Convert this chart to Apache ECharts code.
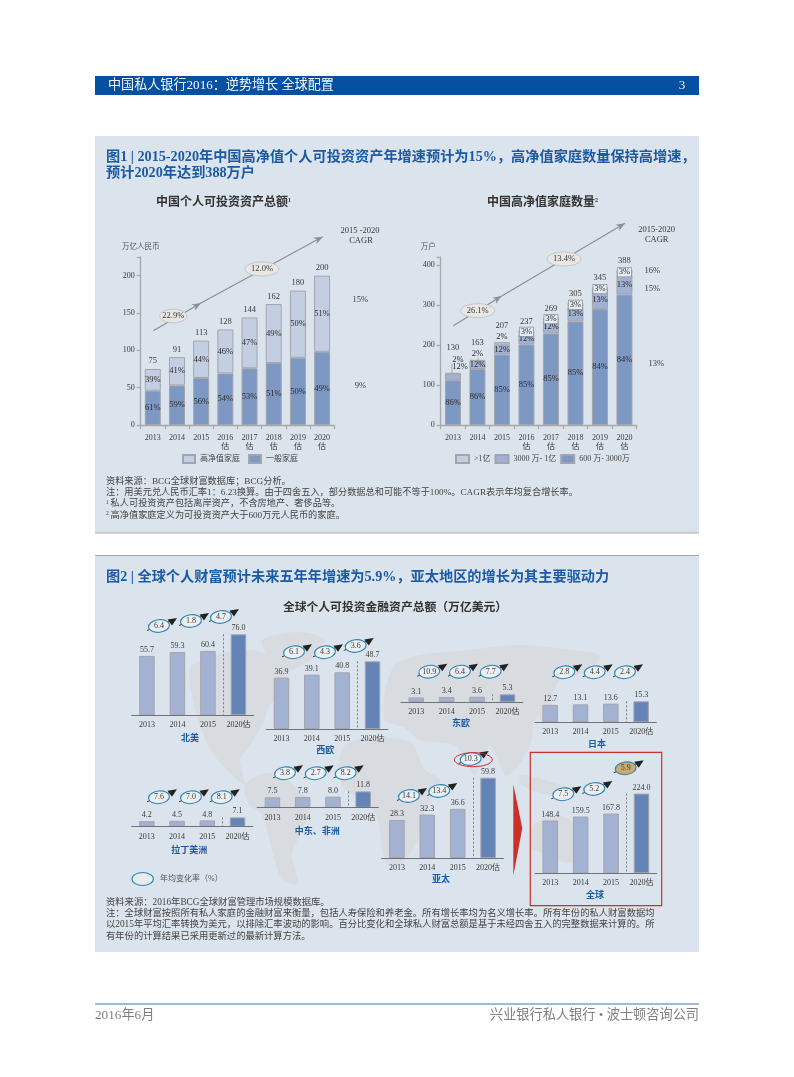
<!DOCTYPE html>
<html><head><meta charset="utf-8">
<style>html,body{margin:0;padding:0;background:#fff}#c{width:794px;height:1077px}</style>
<script src="https://cdn.jsdelivr.net/npm/echarts@6/dist/echarts.min.js"></script>
</head><body><div id="c"></div>
<script>
const FONT='"Liberation Serif","Noto Sans CJK SC"';
const years=['2013','2014','2015','2016\n估','2017\n估','2018\n估','2019\n估','2020\n估'];
const assetsHigh=[29,38,50,59,68,79,90,102];
const assetsNormal=[46,53,63,69,76,83,90,98];
const assetsTotal=[75,91,113,128,144,162,180,200];
const assetsHighPct=[39,41,44,46,47,49,50,51];
const assetsNormalPct=[61,59,56,54,53,51,50,49];
const hhTop=[2,3,6,8,8,9,10,12];
const hhMid=[16,20,25,28,32,37,45,50];
const hhBase=[112,140,176,201,229,259,290,326];
const hhTotal=[130,163,207,237,269,305,345,388];
const hhTopPct=[2,2,2,3,3,3,3,3];
const hhMidPct=[12,12,12,12,12,13,13,13];
const hhBasePct=[86,86,85,85,85,85,84,84];
const regionYears=['2013','2014','2015','2020估'];
const northAmerica=[55.7,59.3,60.4,76.0], northAmericaRates=[6.4,1.8,4.7];
const westEurope=[36.9,39.1,40.8,48.7], westEuropeRates=[6.1,4.3,3.6];
const eastEurope=[3.1,3.4,3.6,5.3], eastEuropeRates=[10.9,6.4,7.7];
const japan=[12.7,13.1,13.6,15.3], japanRates=[2.8,4.4,2.4];
const latinAmerica=[4.2,4.5,4.8,7.1], latinAmericaRates=[7.6,7.0,8.1];
const middleEastAfrica=[7.5,7.8,8.0,11.8], middleEastAfricaRates=[3.8,2.7,8.2];
const asiaPacific=[28.3,32.3,36.6,59.8], asiaPacificRates=[14.1,13.4,10.3];
const globalWealth=[148.4,159.5,167.8,224.0], globalRates=[7.5,5.2,5.9];

const C={panel:'#dbe3ec',blue:'#1b5ba6',hi:'#c4cee2',mid:'#a0b1d3',lo:'#7e98c4',bd:'#a2a5ad',txt:'#3a3a3a',light:'#a3b2d3',fc:'#6484b8',map:'#d8dbdf'};
const regions=[
 {name:'北美',v:northAmerica,r:northAmericaRates,l:131.7,w:122,b:715.3,h:81,tx:190,ty:738.7,c:[[159,626],[191,621],[221,617]]},
 {name:'西欧',v:westEurope,r:westEuropeRates,l:266.3,w:121.4,b:729,h:67.7,tx:325.3,ty:751,c:[[294,652.3],[325,652.3],[355.7,646]]},
 {name:'东欧',v:eastEurope,r:eastEuropeRates,l:401,w:121.7,b:702,h:7.7,tx:461,ty:724,c:[[429.3,671.7],[460,671.7],[490.7,671.7]]},
 {name:'日本',v:japan,r:japanRates,l:535,w:121.3,b:722.3,h:21,tx:597,ty:744.3,c:[[564.3,672.3],[594.7,672.3],[625,672.3]]},
 {name:'拉丁美洲',v:latinAmerica,r:latinAmericaRates,l:131.7,w:121,b:826.7,h:9.3,tx:189.3,ty:850.3,c:[[159,797.3],[191,797.3],[221.7,797.3]]},
 {name:'中东、非洲',v:middleEastAfrica,r:middleEastAfricaRates,l:257.3,w:121,b:807.7,h:16.3,tx:317.3,ty:831.3,c:[[285,773.3],[315.7,773.3],[345.7,773.3]]},
 {name:'亚太',v:asiaPacific,r:asiaPacificRates,l:381.7,w:121.6,b:858,h:80.3,tx:441,ty:880,c:[[409,796],[439.3,791],[470.7,759]]},
 {name:'全球',v:globalWealth,r:globalRates,l:535,w:121.7,b:873.3,h:79.7,tx:595,ty:896,c:[[563.3,794.3],[594.3,789],[625.7,768.3]],hot:2}
];
const MAP=[
 [[190,668],[215,655],[250,650],[268,655],[275,665],[290,680],[282,695],[270,705],[262,725],[250,745],[240,760],[245,785],[232,775],[218,760],[208,745],[198,720],[192,695]],
 [[262,640],[300,632],[325,640],[310,660],[285,672],[270,660]],
 [[245,785],[265,773],[290,782],[310,805],[302,830],[292,855],[298,884],[282,880],[272,850],[262,815],[248,803]],
 [[385,690],[395,665],[420,655],[470,650],[520,645],[570,650],[600,655],[590,670],[560,680],[550,700],[535,720],[530,745],[515,770],[505,775],[490,745],[475,775],[465,760],[455,745],[420,740],[405,728],[385,720]],
 [[345,745],[370,738],[410,742],[425,770],[440,780],[425,810],[418,840],[400,865],[385,860],[378,820],[370,805],[345,790],[338,770]],
 [[533,825],[555,815],[570,820],[582,842],[575,862],[555,860],[540,852],[532,850]],
 [[520,775],[545,780],[570,790],[565,797],[540,793],[522,785]],
 [[538,698],[548,695],[552,715],[542,724]]
];
const T=(text,x,y,font,fill,align,z)=>({type:'text',x,y,z:z||6,silent:true,style:{text,font:font+' '+FONT,fill:fill||C.txt,textAlign:align||'left',textVerticalAlign:'middle'}});
const R=(x,y,w,h,fill,z)=>({type:'rect',z:z||0,silent:true,shape:{x,y,width:w,height:h},style:{fill}});
const L=(x1,y1,x2,y2,stroke,lw,z)=>({type:'line',z:z||6,silent:true,shape:{x1,y1,x2,y2},style:{stroke,lineWidth:lw||1}});
function arrowHead(x1,y1,x2,y2,col){const a=Math.atan2(y2-y1,x2-x1),s=9,t=3.6;
 return {type:'polygon',z:6,silent:true,shape:{points:[[x2,y2],[x2-s*Math.cos(a)+t*Math.sin(a),y2-s*Math.sin(a)-t*Math.cos(a)],[x2-s*.7*Math.cos(a),y2-s*.7*Math.sin(a)],[x2-s*Math.cos(a)-t*Math.sin(a),y2-s*Math.sin(a)+t*Math.cos(a)]]},style:{fill:col}};}
function pill(x,y,rx,ry,text){return [{type:'ellipse',z:7,silent:true,shape:{cx:x,cy:y,rx,ry},style:{fill:'#e8e7e3',stroke:'#bcbcba',lineWidth:.8}},T(text,x,y,'8.5px','#3a3a3a','center',8)];}
function bubble(x,y,text,hot){return {type:'group',x,y,z:9,silent:true,children:[
 {type:'line',z:9,shape:{x1:-12,y1:4.5,x2:14,y2:-6},style:{stroke:'#222',lineWidth:.9}},
 {type:'polygon',z:9,shape:{points:[[18,-8],[8.5,-6.5],[13,-.5]]},style:{fill:'#222'}},
 {type:'ellipse',z:10,rotation:.12,shape:{cx:0,cy:0,rx:10.5,ry:6.3},style:{fill:hot?'#cdaa72':'#eceff1',stroke:'#2b85b5',lineWidth:1.1}},
 {type:'text',z:11,style:{text,x:0,y:0,font:'8px '+FONT,fill:'#3a3a3a',textAlign:'center',textVerticalAlign:'middle'}}]};}

const g=[];
g.push(R(95,76,604,19,'#0550a3'),T('中国私人银行2016：逆势增长 全球配置',108,86,'13.1px','#f4f6fa'),T('3',682,86,'13px','#f4f6fa','center'));
g.push(R(95,136,604,397,C.panel),L(95,533,699,533,'#a9adb5',1,1));
g.push(R(95,556,604,396,C.panel),L(95,555.5,699,555.5,'#a0a6ae',1,1));
MAP.forEach(p=>g.push({type:'polygon',z:1,silent:true,shape:{points:p,smooth:.25},style:{fill:C.map}}));
g.push(T('图1 | 2015-2020年中国高净值个人可投资资产年增速预计为15%，高净值家庭数量保持高增速，',106,157,'bold 14.2px',C.blue),T('预计2020年达到388万户',106,173,'bold 14.2px',C.blue));
g.push(T('中国个人可投资资产总额',156,202.5,'bold 12px','#333'),T('1',288,200,'bold 6px','#333'));
g.push(T('中国高净值家庭数量',487,202.5,'bold 12px','#333'),T('2',595,200,'bold 6px','#333'));
[[153.3,330.7,201,303],[201,303,322.7,236.7],[453.3,325.7,501.7,296],[501.7,296,625,223.3]].forEach(a=>{g.push(L(a[0],a[1],a[2],a[3],'#8c8f94',1.2,6),arrowHead(a[0],a[1],a[2],a[3],'#8c8f94'));});
g.push(...pill(173.3,316,13.5,6.8,'22.9%'),...pill(262,269,17,7,'12.0%'),...pill(477.7,310.7,17,7,'26.1%'),...pill(564,259,17,7,'13.4%'));
[['2015 -2020',360,231],['CAGR',361,241],['15%',360.3,299.3],['9%',360.3,385.3],['2015-2020',656.7,230],['CAGR',656.7,240],['16%',652.3,270.3],['15%',652.3,288.3],['13%',656.3,363.3]].forEach(t=>g.push(T(t[0],t[1],t[2],'8.5px','#3a3a3a','center')));
g.push(T('万亿人民币',140.7,246.7,'7.5px','#555','center'),T('万户',428.3,246.7,'7.5px','#555','center'));
g.push(L(452,364,452,373,'#8c8f94',.7),L(478,358,478,361,'#8c8f94',.7));
[['资料来源：BCG全球财富数据库；BCG分析。',481.7],['注：用美元兑人民币汇率1：6.23换算。由于四舍五入，部分数据总和可能不等于100%。CAGR表示年均复合增长率。',492.7],['  私人可投资资产包括离岸资产，不含房地产、奢侈品等。',504],['  高净值家庭定义为可投资资产大于600万元人民币的家庭。',515.7]].forEach(t=>g.push(T(t[0],106,t[1],'9.2px','#444')));
g.push(T('1',106,502.5,'5.5px','#444'),T('2',106,514,'5.5px','#444'));
g.push(T('图2 | 全球个人财富预计未来五年年增速为5.9%，亚太地区的增长为其主要驱动力',106,577.7,'bold 14.2px',C.blue));
g.push(T('全球个人可投资金融资产总额（万亿美元）',395,608,'bold 11.8px','#333','center'));
regions.forEach(r=>{g.push(T(r.name,r.tx,r.ty,'bold 9px',C.blue,'center'));
 r.c.forEach((c,i)=>g.push(bubble(c[0],c[1],r.r[i].toFixed(1),r.hot===i)));});
g.push({type:'ellipse',z:12,silent:true,shape:{cx:473.3,cy:759.7,rx:19,ry:7},style:{fill:'none',stroke:'#c8323c',lineWidth:1}});
g.push({type:'rect',z:5,silent:true,shape:{x:530.3,y:752.3,width:131.4,height:153.4},style:{fill:'none',stroke:'#c8322a',lineWidth:1.2}});
g.push({type:'polygon',z:5,silent:true,shape:{points:[[513.3,784.3],[522.3,828.3],[513.3,875.7]]},style:{fill:'#cb3127'}});
g.push({type:'ellipse',z:9,silent:true,shape:{cx:142.7,cy:879,rx:10.7,ry:6.5},style:{fill:'#e8ebec',stroke:'#2b85b5',lineWidth:1.1}},T('年均变化率（%）',160,879,'8px','#555'));
[['资料来源：2016年BCG全球财富管理市场规模数据库。',902.3],['注：全球财富按照所有私人家庭的金融财富来衡量，包括人寿保险和养老金。所有增长率均为名义增长率。所有年份的私人财富数据均',913.3],['以2015年平均汇率转换为美元，以排除汇率波动的影响。百分比变化和全球私人财富总额是基于未经四舍五入的完整数据来计算的。所',924.5],['有年份的计算结果已采用更新过的最新计算方法。',937]].forEach(t=>g.push(T(t[0],106,t[1],'9.3px','#444')));
g.push(L(95,1004,699,1004,'#3b78b8',1.2),T('2016年6月',95,1016,'13.2px','#7f7f7f'),T('兴业银行私人银行 • 波士顿咨询公司',699,1016,'13.2px','#7f7f7f','right'));

const grids=[],xAxes=[],yAxes=[],series=[];
const axisC={lineStyle:{color:'#a5a8ac',width:1.3}};
function big(left,width,max,interval){const i=grids.length;
 grids.push({left,top:257,width,height:168});
 xAxes.push({gridIndex:i,type:'category',z:4,data:years,axisLine:axisC,axisTick:{show:true,length:4,lineStyle:axisC.lineStyle},axisLabel:{fontFamily:FONT,fontSize:8,color:C.txt,lineHeight:9.5,margin:8,interval:0}});
 yAxes.push({gridIndex:i,type:'value',z:4,min:0,max,interval,splitLine:{show:false},axisLine:{show:true,...axisC},axisTick:{show:true,length:4,lineStyle:axisC.lineStyle},axisLabel:{fontFamily:FONT,fontSize:8,color:C.txt,margin:6,formatter:v=>v>max-1?'':v}});
 return i;}
const ax1=big(140.7,193.5,225,50), ax2=big(440.7,196,420,100);
function stack(name,i,data,pct,color,stackName,extra){series.push({name,type:'bar',xAxisIndex:i,yAxisIndex:i,stack:stackName,barWidth:16,z:3,
 data:data.map((v,k)=>{const d={value:v,label:{}}; if(extra&&extra[k])Object.assign(d.label,extra[k]); return d;}),
 itemStyle:{color,borderColor:C.bd,borderWidth:1},
 label:{show:true,position:'inside',fontFamily:FONT,fontSize:8.5,color:'#2c2c2c',formatter:p=>pct[p.dataIndex]+'%'}});}
function totals(i,data,offs){series.push({type:'line',name:'合计'+i,xAxisIndex:i,yAxisIndex:i,z:4,symbol:'circle',symbolSize:1,showAllSymbol:true,lineStyle:{opacity:0},itemStyle:{color:'rgba(0,0,0,0)'},
 data:data.map((v,k)=>({value:v,label:{offset:offs?offs[k]:[0,0]}})),
 label:{show:true,position:'top',distance:3,fontFamily:FONT,fontSize:8.5,color:'#3a3a3a'}});}
stack('一般家庭',ax1,assetsNormal,assetsNormalPct,C.lo,'a');
stack('高净值家庭',ax1,assetsHigh,assetsHighPct,C.hi,'a');
totals(ax1,assetsTotal);
stack('600 万- 3000万',ax2,hhBase,hhBasePct,C.lo,'b');
stack('3000 万- 1亿',ax2,hhMid,hhMidPct,C.mid,'b',{0:{offset:[7,-10]}});
const boxed={backgroundColor:'#e6ebf2',borderColor:'#8f939b',borderWidth:.7,padding:[0,1]};
stack('>1亿',ax2,hhTop,hhTopPct,C.hi,'b',{0:{offset:[5,-14]},1:{offset:[0,-7]},2:{offset:[0,-7]},3:boxed,4:boxed,5:boxed,6:boxed,7:boxed});
totals(ax2,hhTotal,[[0,-17],[0,-9],[0,-9],[0,-1],[0,-1],[0,-1],[0,-1],[0,-1]]);

regions.forEach(r=>{const i=grids.length;
 grids.push({left:r.l,top:r.b-r.h,width:r.w,height:r.h});
 xAxes.push({gridIndex:i,type:'category',z:4,data:regionYears,axisLine:{lineStyle:{color:'#6f7276',width:1.2}},axisTick:{show:false},
  axisLabel:{fontFamily:FONT,fontSize:8,color:C.txt,margin:6,interval:0},
  splitLine:{show:true,interval:idx=>idx%3===0,showMinLine:false,showMaxLine:false,lineStyle:{color:'#70747a',type:[2,2],width:.9}}});
 yAxes.push({gridIndex:i,type:'value',min:0,max:r.v[3],show:false,splitLine:{show:false}});
 series.push({name:r.name,type:'bar',xAxisIndex:i,yAxisIndex:i,barWidth:15.5,z:3,data:r.v,
  itemStyle:{color:p=>p.dataIndex===3?C.fc:C.light,borderColor:C.bd,borderWidth:1},
  label:{show:true,position:'top',distance:2,fontFamily:FONT,fontSize:8,color:'#3a3a3a',formatter:p=>p.value.toFixed(1)}});
});
const legTxt={fontFamily:FONT,fontSize:8,color:'#444'};
const chart=echarts.init(document.getElementById('c'),null,{renderer:'canvas'});
chart.setOption({animation:false,backgroundColor:'#fff',grid:grids,xAxis:xAxes,yAxis:yAxes,series,
 legend:[
  {left:182,top:454,itemWidth:12,itemHeight:8,itemGap:8,icon:'rect',textStyle:legTxt,data:['高净值家庭','一般家庭'],selectedMode:false,padding:0},
  {left:455,top:454,itemWidth:13,itemHeight:8,itemGap:4,icon:'rect',textStyle:legTxt,data:['>1亿','3000 万- 1亿','600 万- 3000万'],selectedMode:false,padding:0}
 ],
 graphic:{elements:g}});
</script></body></html>
